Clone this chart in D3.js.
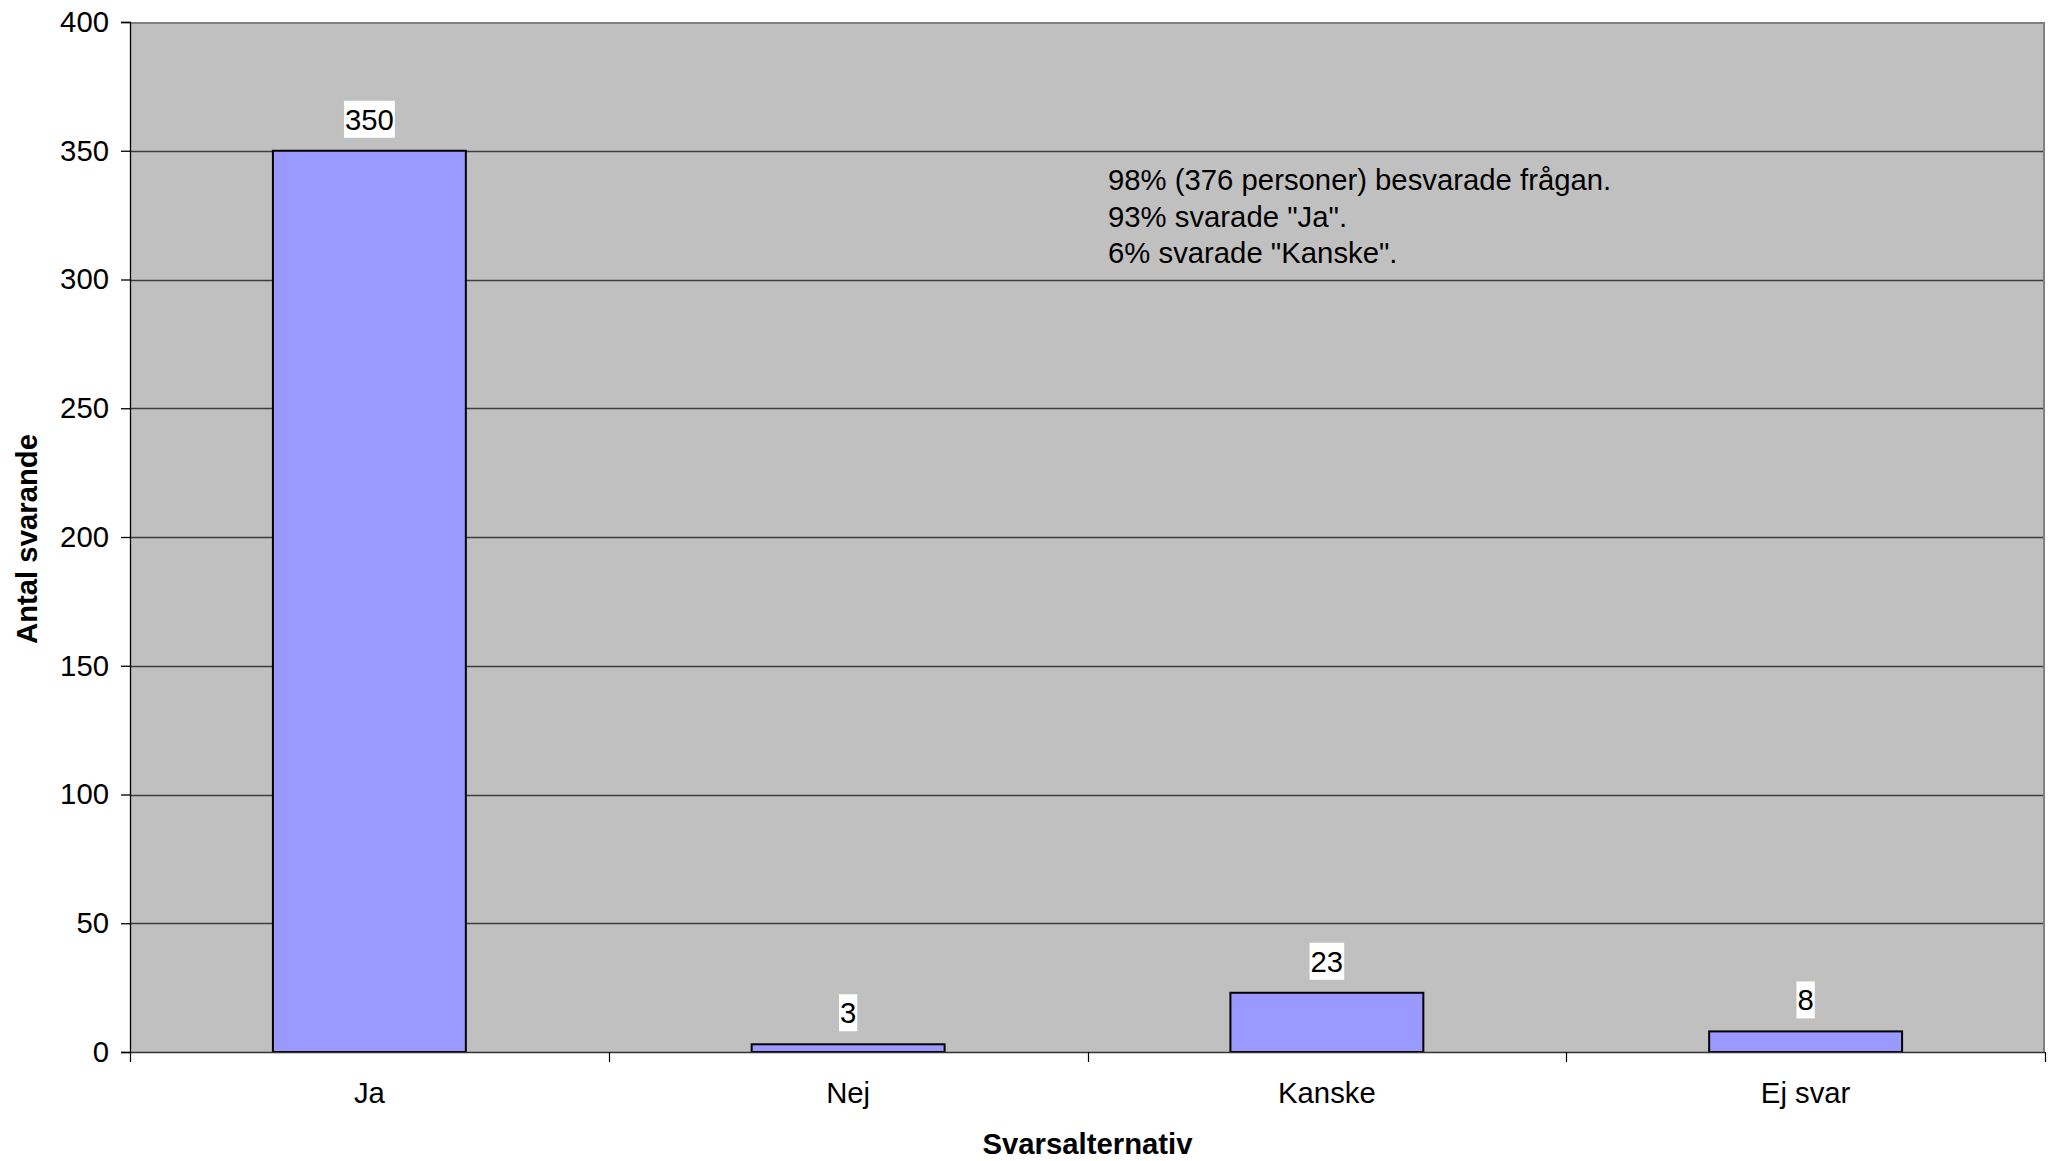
<!DOCTYPE html>
<html>
<head>
<meta charset="utf-8">
<script src="https://cdn.jsdelivr.net/npm/d3@7"></script>
<style>
  html, body { margin: 0; padding: 0; background: #ffffff; }
  svg { display: block; font-family: "Liberation Sans", Arial, sans-serif; }
</style>
</head>
<body>
<svg id="chart" width="2055" height="1161"></svg>
<script>
// Survey answers
const categories = ["Ja", "Nej", "Kanske", "Ej svar"];
const counts = [350, 3, 23, 8];
const yTicks = [0, 50, 100, 150, 200, 250, 300, 350, 400];
const noteLines = [
  "98% (376 personer) besvarade frågan.",
  "93% svarade \"Ja\".",
  "6% svarade \"Kanske\"."
];
const yTitle = "Antal svarande";
const xTitle = "Svarsalternativ";

const FS = 29.3;

const svg = d3.select("#chart");
const plot = { left: 130, right: 2045, top: 22, bottom: 1052 };

const x = d3.scaleBand()
  .domain(categories)
  .range([plot.left, plot.right])
  .paddingInner(0.597)
  .paddingOuter(0.2985);

const xCat = d3.scaleBand().domain(categories).range([plot.left, plot.right]);

const y = d3.scaleLinear().domain([0, 400]).range([plot.bottom, plot.top]);

// plot background
svg.append("rect")
  .attr("x", plot.left).attr("y", plot.top)
  .attr("width", plot.right - plot.left).attr("height", plot.bottom - plot.top)
  .attr("fill", "#c0c0c0");

// horizontal gridlines
svg.append("g")
  .selectAll("line")
  .data(yTicks.filter(d => d > 0 && d < 400))
  .join("line")
  .attr("x1", plot.left).attr("x2", plot.right)
  .attr("y1", d => Math.round(y(d)) + 0.5).attr("y2", d => Math.round(y(d)) + 0.5)
  .attr("stroke", "#3c3c3c").attr("stroke-width", 1.3);

// plot frame (top and right)
svg.append("path")
  .attr("d", `M${plot.left},${plot.top + 1}H${plot.right - 1}V${plot.bottom}`)
  .attr("fill", "none").attr("stroke", "#808080").attr("stroke-width", 2);

// bars
svg.append("g")
  .selectAll("rect")
  .data(counts)
  .join("rect")
  .attr("x", (d, i) => x(categories[i]))
  .attr("width", x.bandwidth())
  .attr("y", d => y(d))
  .attr("height", d => y(0) - y(d))
  .attr("fill", "#9999ff")
  .attr("stroke", "#000000")
  .attr("stroke-width", 2);

// y axis
const yAxis = svg.append("g")
  .attr("transform", `translate(${plot.left},0)`)
  .call(d3.axisLeft(y).tickValues(yTicks).tickSize(9).tickPadding(12).tickFormat(d3.format("d")));
yAxis.select(".domain").attr("stroke", "#000").attr("stroke-width", 1.3);
yAxis.selectAll(".tick line").attr("stroke", "#000").attr("stroke-width", 1.3);
yAxis.selectAll("text").attr("font-size", FS).attr("fill", "#000")
  .attr("font-family", "Liberation Sans, Arial, sans-serif");

// x axis: ticks on category boundaries
const xAxis = svg.append("g")
  .attr("transform", `translate(0,${plot.bottom})`);
xAxis.append("line")
  .attr("x1", plot.left).attr("x2", plot.right)
  .attr("y1", 0.5).attr("y2", 0.5)
  .attr("stroke", "#333").attr("stroke-width", 1.5);
const bounds = categories.map(c => xCat(c)).concat([plot.right]);
xAxis.selectAll("line.tick")
  .data(bounds)
  .join("line")
  .attr("class", "tick")
  .attr("x1", d => Math.round(d) + 0.5).attr("x2", d => Math.round(d) + 0.5)
  .attr("y1", 0).attr("y2", 10)
  .attr("stroke", "#000").attr("stroke-width", 1.2);
xAxis.selectAll("text")
  .data(categories)
  .join("text")
  .attr("x", d => xCat(d) + xCat.bandwidth() / 2)
  .attr("y", 51)
  .attr("text-anchor", "middle")
  .attr("font-size", FS)
  .attr("fill", "#000")
  .text(d => d);

// value labels with white backing
const labels = svg.append("g")
  .selectAll("g")
  .data(counts)
  .join("g")
  .attr("transform", (d, i) => `translate(${x(categories[i]) + x.bandwidth() / 2},${y(d) - 21})`);
labels.append("text")
  .attr("text-anchor", "middle")
  .attr("font-size", FS)
  .attr("fill", "#000")
  .text(d => d);
labels.each(function() {
  const g = d3.select(this);
  const bb = g.select("text").node().getBBox();
  g.insert("rect", "text")
    .attr("x", bb.x - 1).attr("y", -29)
    .attr("width", bb.width + 2).attr("height", 37)
    .attr("fill", "#ffffff");
});

// note text
svg.append("g")
  .selectAll("text")
  .data(noteLines)
  .join("text")
  .attr("x", 1108)
  .attr("y", (d, i) => 190 + i * 36.5)
  .attr("font-size", FS)
  .attr("fill", "#000")
  .text(d => d);

// axis titles
svg.append("text")
  .attr("transform", `translate(37,${(plot.top + plot.bottom) / 2 + 2}) rotate(-90)`)
  .attr("text-anchor", "middle")
  .attr("font-size", FS)
  .attr("font-weight", "bold")
  .attr("fill", "#000")
  .text(yTitle);

svg.append("text")
  .attr("x", (plot.left + plot.right) / 2)
  .attr("y", 1154)
  .attr("text-anchor", "middle")
  .attr("font-size", FS)
  .attr("font-weight", "bold")
  .attr("fill", "#000")
  .text(xTitle);
</script>
</body>
</html>
